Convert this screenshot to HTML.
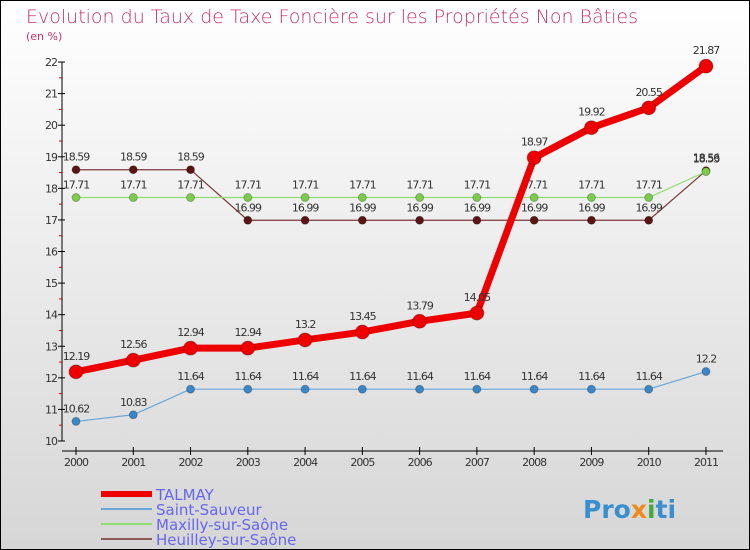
<!DOCTYPE html>
<html><head><meta charset="utf-8"><style>
body{margin:0}
#c{width:748px;height:548px;border:1px solid #000;background:linear-gradient(#fff,#d6d6d6);position:relative;font-family:"DejaVu Sans","Liberation Sans",sans-serif;overflow:hidden}
</style></head><body>
<div id="c">
<svg id="s" width="748" height="548">
<text x="25" y="22" font-size="19" fill="#c8336a" font-weight="200">Evolution du Taux de Taxe Foncière sur les Propriétés Non Bâties</text>
<text x="25" y="39" font-size="11" fill="#c8336a">(en %)</text>
<g id="axes"></g><g id="series"></g><g id="legend"></g>
<text x="582" y="517" font-size="25" font-weight="bold" fill="#3a8fd0">Pro<tspan fill="#f08a1c">x</tspan><tspan fill="#4aa840">i</tspan>ti</text>
</svg></div>
<script>
const years=["2000","2001","2002","2003","2004","2005","2006","2007","2008","2009","2010","2011"];
const yTicks=[10,11,12,13,14,15,16,17,18,19,20,21,22];
const talmay=[12.19,12.56,12.94,12.94,13.2,13.45,13.79,14.05,18.97,19.92,20.55,21.87];
const saint=[10.62,10.83,11.64,11.64,11.64,11.64,11.64,11.64,11.64,11.64,11.64,12.2];
const maxilly=[17.71,17.71,17.71,17.71,17.71,17.71,17.71,17.71,17.71,17.71,17.71,18.53];
const heuilley=[18.59,18.59,18.59,16.99,16.99,16.99,16.99,16.99,16.99,16.99,16.99,18.56];
const NS="http://www.w3.org/2000/svg";
const X=i=>75+i*57.27, Y=v=>440-(v-10)*31.58;
function mk(t,a,p){const e=document.createElementNS(NS,t);for(const k in a)e.setAttribute(k,a[k]);p.appendChild(e);return e;}
const ax=document.getElementById('axes');
let e=mk('line',{x1:61,y1:Y(22),x2:61,y2:Y(10),stroke:'#000'},ax);


e=mk('line',{x1:61,y1:450,x2:722,y2:450,stroke:'#000'},ax);


yTicks.forEach(v=>{mk('line',{x1:57,y1:Y(v),x2:64,y2:Y(v),stroke:'#000'},ax);
 if(v<22)mk('line',{x1:58,y1:Y(v+0.5),x2:61,y2:Y(v+0.5),stroke:'#d00'},ax);
 const t=mk('text',{x:56,y:Y(v)+4,'font-size':11,'text-anchor':'end',fill:'#333','letter-spacing':'-1'},ax);t.textContent=v;
 
 });
years.forEach((y,i)=>{mk('line',{x1:X(i),y1:446,x2:X(i),y2:454,stroke:'#000'},ax);
 const t=mk('text',{x:X(i),y:465,'font-size':11,'text-anchor':'middle',fill:'#333','letter-spacing':'-1'},ax);t.textContent=y;
 
 });
const sg=document.getElementById('series');
function draw(name,d,col,dot,w,r,lab){
 const g=mk('g',{},sg);
 
 
 mk('polyline',{points:d.map((v,i)=>X(i)+','+Y(v)).join(' '),fill:'none',stroke:col,'stroke-width':w,'stroke-linejoin':'round'},g);
 d.forEach((v,i)=>{const c=mk('circle',{cx:X(i),cy:Y(v),r:r,fill:dot,stroke:'rgba(0,0,0,0.25)'},g);
  
  
  const t=mk('text',{x:X(i),y:Y(v)-lab,'font-size':11,'text-anchor':'middle',fill:'#333','letter-spacing':'-1'},g);t.textContent=v;
  
  });
}
draw('series-heuilley',heuilley,'#7a3a3a','#5a1414',1.2,4,9);
draw('series-maxilly',maxilly,'#90dd70','#7ccc4c',1.2,4,9);
draw('series-saint-sauveur',saint,'#6aa6d6','#3a86c6',1.2,4,9);
draw('series-talmay',talmay,'#ee0000','#ee0000',7,7,12);
const lg=document.getElementById('legend');
[['TALMAY','#ee0000',6],['Saint-Sauveur','#6aa6d6',2],['Maxilly-sur-Saône','#90dd70',2],['Heuilley-sur-Saône','#8a5a5a',2]].forEach((l,i)=>{
 const y=493+i*15;
 const g=mk('g',{},lg);
 
 
 mk('line',{x1:100,y1:y,x2:151,y2:y,stroke:l[1],'stroke-width':l[2]},g);
 const t=mk('text',{x:155,y:y+6,'font-size':15,fill:'#6666ee'},g);t.textContent=l[0];
});
</script>
</body></html>
